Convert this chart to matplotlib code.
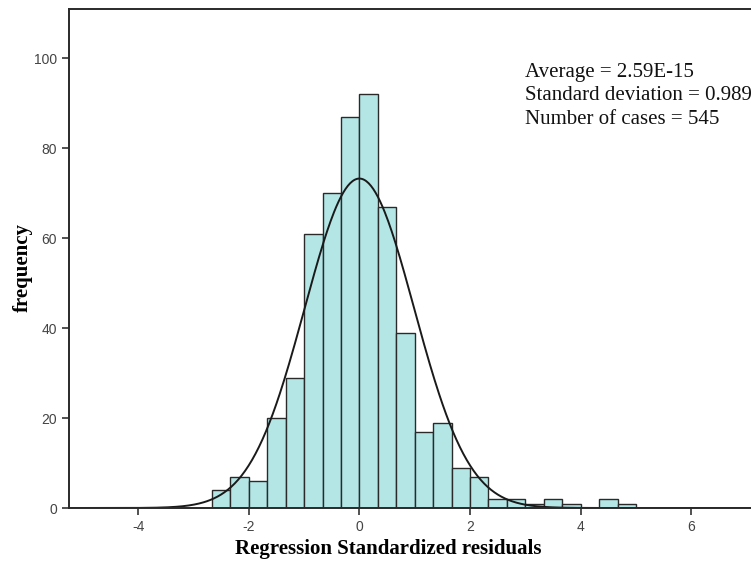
import numpy as np
import matplotlib
matplotlib.use("Agg")
import matplotlib.pyplot as plt

plt.rcParams["axes.unicode_minus"] = False

# histogram bins: width 1/3, from -8/3 to 5
bin_edges = np.arange(-8, 16) / 3.0
counts = [4, 7, 6, 20, 29, 61, 70, 87, 92, 67, 39, 17, 19, 9, 7,
          2, 2, 1, 2, 1, 0, 2, 1]

mean = 2.59e-15
std = 0.989
n_cases = 545

stats_lines = ["Average = 2.59E-15",
               "Standard deviation = 0.989",
               "Number of cases = 545"]

fig = plt.figure(figsize=(7.51, 5.63), dpi=100)
ax = fig.add_axes([69 / 751, 1 - 508 / 563, 1 - 69 / 751, 499 / 563])

widths = np.diff(bin_edges)
ax.bar(bin_edges[:-1], counts, width=widths, align="edge",
       color="#b4e6e6", edgecolor="#2a2a2a", linewidth=1.0)

# normal curve scaled to counts
xs = np.linspace(-5.3, 7.2, 600)
bw = widths[0]
ys = n_cases * bw / (std * np.sqrt(2 * np.pi)) * np.exp(-0.5 * ((xs - mean) / std) ** 2)
ax.plot(xs, ys, color="#1a1a1a", linewidth=1.4)

ax.set_xlim(-5.25, 7.08)
ax.set_ylim(0, 111)
ax.set_xticks([-4, -2, 0, 2, 4, 6])
ax.set_yticks([0, 20, 40, 60, 80, 100])
ax.tick_params(direction="out", length=5, width=1.2, colors="#333333",
               labelsize=10, labelcolor="#444444")
for lab in ax.get_xticklabels() + ax.get_yticklabels():
    lab.set_family("Liberation Sans")

for side in ["left", "bottom", "top"]:
    ax.spines[side].set_linewidth(1.4)
    ax.spines[side].set_color("#2a2a2a")
ax.spines["right"].set_visible(False)

ax.set_xlabel("Regression Standardized residuals", family="Liberation Serif",
              fontweight="bold", fontsize=15)
ax.xaxis.set_label_coords(0.468, -0.062)
ax.set_ylabel("frequency", family="Liberation Serif", fontweight="bold",
              fontsize=15)
ax.yaxis.set_label_coords(-0.053, 0.481)

ax.text(525 / 751, 1 - 63 / 563, "\n".join(stats_lines), transform=fig.transFigure,
        family="Liberation Serif", fontsize=15, va="top", ha="left",
        linespacing=1.32, color="#111111")

fig.savefig("out.png", dpi=100)
